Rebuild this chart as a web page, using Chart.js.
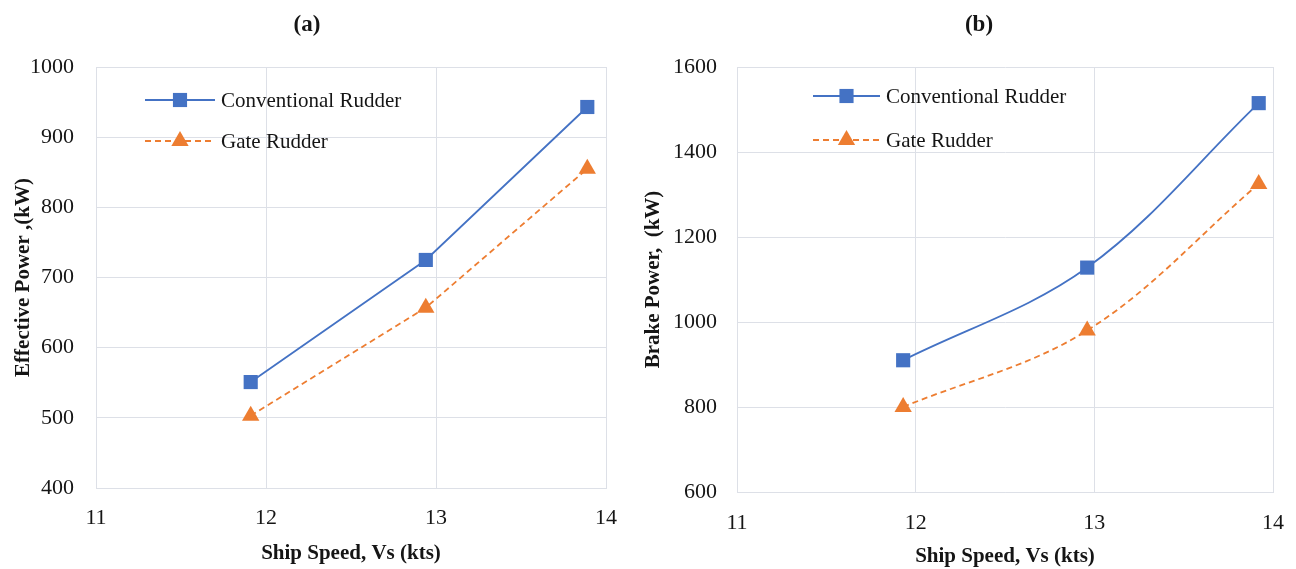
<!DOCTYPE html>
<html>
<head>
<meta charset="utf-8">
<script src="https://cdn.jsdelivr.net/npm/chart.js@4.4.0/dist/chart.umd.min.js"></script>
<style>
  html, body { margin: 0; padding: 0; background: #fff; }
  .wrap { position: relative; width: 1296px; height: 569px; overflow: hidden; }
  .box { position: absolute; top: 0; height: 569px; }
  #boxA { left: 0; width: 648px; }
  #boxB { left: 636px; width: 666px; }
</style>
</head>
<body>
<div class="wrap">
  <div class="box" id="boxA"><canvas id="chartA"></canvas></div>
  <div class="box" id="boxB"><canvas id="chartB"></canvas></div>
</div>
<script>
// data
const speedConvA = [11.91, 12.94, 13.89];
const effConv = [551, 725, 943];
const speedGateA = [11.91, 12.94, 13.89];
const effGate = [503, 657, 855];

const speedConvB = [11.93, 12.96, 13.92];
const brakeConv = [910, 1128, 1515];
const speedGateB = [11.93, 12.96, 13.92];
const brakeGate = [800, 980, 1325];

const xTicks = [11, 12, 13, 14];
const yTicksA = [400, 500, 600, 700, 800, 900, 1000];
const yTicksB = [600, 800, 1000, 1200, 1400, 1600];

const BLUE = "#4472C4";
const ORANGE = "#ED7D31";
const GRID = "#dde0e7";
const INK = "#151515";
const SERIF = "'Liberation Serif', 'Times New Roman', serif";

function toXY(xs, ys) {
  return xs.map((x, i) => ({ x, y: ys[i] }));
}

// panel caption "(a)" / "(b)"
const panelTitle = {
  id: "panelTitle",
  afterDraw(chart, args, opts) {
    const ctx = chart.ctx;
    ctx.save();
    ctx.fillStyle = INK;
    ctx.font = "bold 23px " + SERIF;
    ctx.textAlign = "center";
    ctx.textBaseline = "middle";
    ctx.fillText(opts.text, opts.x, opts.y);
    ctx.restore();
  },
};

// legend drawn inside the plot, like the excel one
const innerLegend = {
  id: "innerLegend",
  afterDraw(chart, args, opts) {
    const ctx = chart.ctx;
    ctx.save();
    chart.data.datasets.forEach((ds, i) => {
      const y = opts.y + i * opts.gap;
      ctx.strokeStyle = ds.borderColor;
      ctx.lineWidth = ds.borderWidth;
      ctx.setLineDash(ds.borderDash || []);
      ctx.beginPath();
      ctx.moveTo(opts.x, y);
      ctx.lineTo(opts.x + opts.len, y);
      ctx.stroke();
      ctx.setLineDash([]);
      ctx.fillStyle = ds.backgroundColor;
      Chart.helpers.drawPoint(ctx, {
        pointStyle: ds.pointStyle,
        radius: ds.pointRadius,
        rotation: 0,
        borderWidth: 0,
      }, opts.x + opts.len / 2, y);
      ctx.fillStyle = INK;
      ctx.font = "21px " + SERIF;
      ctx.textBaseline = "middle";
      ctx.textAlign = "left";
      ctx.fillText(ds.label, opts.x + opts.len + 6, y + 1);
    });
    ctx.restore();
  },
};

function makeChart(id, cfg) {
  const ticksFor = (list) => (scale) => {
    scale.ticks = list.map((v) => ({ value: v }));
  };
  return new Chart(document.getElementById(id), {
    type: "line",
    data: {
      datasets: [
        {
          label: "Conventional Rudder",
          data: cfg.conv,
          borderColor: BLUE,
          backgroundColor: BLUE,
          borderWidth: 1.8,
          pointStyle: "rect",
          pointRadius: 10,
          pointBorderWidth: 0,
          tension: cfg.tension,
        },
        {
          label: "Gate Rudder",
          data: cfg.gate,
          borderColor: ORANGE,
          backgroundColor: ORANGE,
          borderWidth: 1.8,
          borderDash: [6, 4],
          pointStyle: "triangle",
          pointRadius: 10,
          pointBorderWidth: 0,
          tension: cfg.tension,
        },
      ],
    },
    plugins: [innerLegend, panelTitle],
    options: {
      responsive: false,
      animation: false,
      layout: { padding: cfg.padding },
      plugins: {
        legend: { display: false },
        tooltip: { enabled: false },
        title: { display: false },
        panelTitle: cfg.caption,
        innerLegend: cfg.legend,
      },
      scales: {
        x: {
          type: "linear",
          min: 11,
          max: 14,
          afterBuildTicks: ticksFor(xTicks),
          afterFit: (s) => { s.height = cfg.xAxisHeight; },
          grid: { color: GRID, lineWidth: 1, drawTicks: false },
          border: { color: GRID },
          ticks: {
            color: INK,
            padding: cfg.xTickPad,
            font: { family: SERIF, size: 22 },
            callback: (v) => String(v),
          },
          title: {
            display: true,
            text: "Ship Speed, Vs (kts)",
            color: INK,
            font: { family: SERIF, size: 21, weight: "bold" },
            padding: { top: 0, bottom: 0 },
          },
        },
        y: {
          min: cfg.yMin,
          max: cfg.yMax,
          afterBuildTicks: ticksFor(cfg.yTicks),
          afterFit: (s) => { s.width = cfg.yAxisWidth; },
          grid: { color: GRID, lineWidth: 1, drawTicks: false },
          border: { color: GRID },
          ticks: {
            color: INK,
            padding: cfg.yTickPad,
            font: { family: SERIF, size: 22 },
            callback: (v) => String(v),
          },
          title: {
            display: true,
            text: cfg.yTitle,
            color: INK,
            font: { family: SERIF, size: 21, weight: "bold" },
            padding: { top: cfg.yTitlePad, bottom: 0 },
          },
        },
      },
    },
  });
}

[["chartA", 648], ["chartB", 666]].forEach(([id, w]) => {
  const c = document.getElementById(id);
  c.width = w;
  c.height = 569;
});

makeChart("chartA", {
  caption: { text: "(a)", x: 307, y: 25 },
  conv: toXY(speedConvA, effConv),
  gate: toXY(speedGateA, effGate),
  tension: 0,
  yMin: 400,
  yMax: 1000,
  yTicks: yTicksA,
  yTitle: "Effective Power ,(kW)",
  yTitlePad: -1,
  yTickPad: 22,
  xTickPad: 17,
  yAxisWidth: 84,
  xAxisHeight: 78,
  padding: { left: 12, right: 42, top: 67, bottom: 3 },
  legend: { x: 145, y: 100, gap: 41, len: 70 },
});

makeChart("chartB", {
  caption: { text: "(b)", x: 343, y: 25 },
  conv: toXY(speedConvB, brakeConv),
  gate: toXY(speedGateB, brakeGate),
  tension: 0.35,
  yMin: 600,
  yMax: 1600,
  yTicks: yTicksB,
  yTitle: "Brake Power,  (kW)",
  yTitlePad: -11,
  yTickPad: 20,
  xTickPad: 18,
  yAxisWidth: 85,
  xAxisHeight: 77,
  padding: { left: 16, right: 17, top: 67, bottom: 0 },
  legend: { x: 177, y: 96, gap: 44, len: 67 },
});
</script>
</body>
</html>
